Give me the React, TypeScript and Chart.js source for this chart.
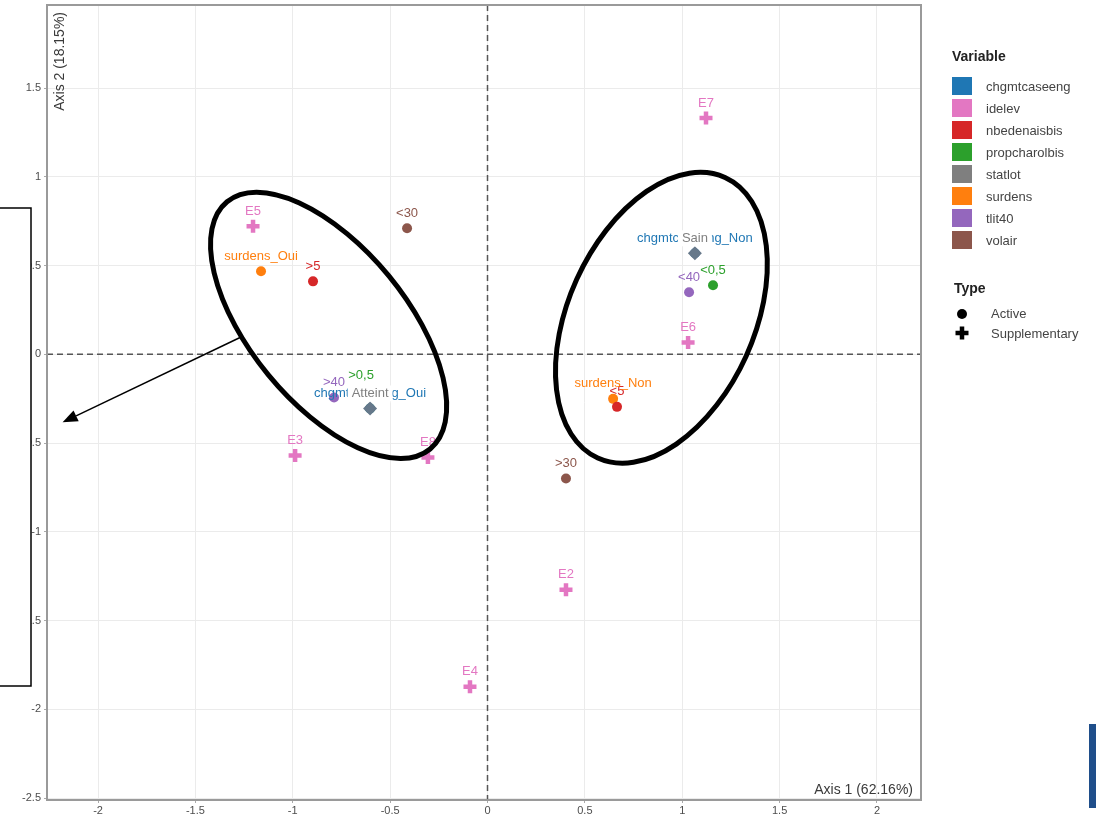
import React, { useEffect, useRef } from "react";
import { Chart, registerables } from "chart.js";

Chart.register(...registerables);

const FONT = '"Liberation Sans", Arial, sans-serif';

const variableNames = ["chgmtcaseeng", "idelev", "nbedenaisbis", "propcharolbis", "statlot", "surdens", "tlit40", "volair"];
const variableColors = ["#1f77b4", "#e377c2", "#d62728", "#2ca02c", "#7f7f7f", "#ff7f0e", "#9467bd", "#8c564b"];
const typeNames = ["Active", "Supplementary"];

const pointLabels = ["E7", "E5", "<30", "surdens_Oui", ">5", "chgmtcaseeng_Non", "Sain", "<0,5", "<40", "E6", "chgmtcaseeng_Oui", "Atteint", ">40", ">0,5", "surdens_Non", "<5", "E3", "E8", ">30", "E2", "E4"];
const pointX = [1.122, -1.204, -0.413, -1.163, -0.896, 1.065, 1.065, 1.158, 1.035, 1.03, -0.603, -0.603, -0.788, -0.603, 0.645, 0.665, -0.988, -0.306, 0.403, 0.403, -0.09];
const pointY = [1.331, 0.722, 0.71, 0.468, 0.411, 0.569, 0.569, 0.389, 0.35, 0.067, -0.305, -0.305, -0.243, -0.305, -0.251, -0.296, -0.57, -0.581, -0.7, -1.326, -1.873];
const pointVariable = ["idelev", "idelev", "volair", "surdens", "nbedenaisbis", "chgmtcaseeng", "statlot", "propcharolbis", "tlit40", "idelev", "chgmtcaseeng", "statlot", "tlit40", "propcharolbis", "surdens", "nbedenaisbis", "idelev", "idelev", "volair", "idelev", "idelev"];
const pointType = ["Supplementary", "Supplementary", "Active", "Active", "Active", "Active", "Active", "Active", "Active", "Supplementary", "Active", "Active", "Active", "Active", "Active", "Active", "Supplementary", "Supplementary", "Active", "Supplementary", "Supplementary"];

const xTicks = [-2, -1.5, -1, -0.5, 0, 0.5, 1, 1.5, 2];
const yTicks = [-2.5, -2, -1.5, -1, -0.5, 0, 0.5, 1, 1.5];
const xRange = [-2.262, 2.226];
const yRange = [-2.511, 1.968];
const xAxisTitle = "Axis 1 (62.16%)";
const yAxisTitle = "Axis 2 (18.15%)";

// annotation shapes (data-space centres)
const ellipseCX = [-0.816, 0.893];
const ellipseCY = [0.163, 0.206];
const arrowFrom = [-1.268, 0.096];
const arrowTo = [-2.182, -0.383];

const colorOf = (v: string) => variableColors[variableNames.indexOf(v)];

export default function App() {
  const ref = useRef<HTMLCanvasElement | null>(null);

  useEffect(() => {
    const canvas = ref.current;
    if (!canvas) return;

    const datasets: any[] = [];
    variableNames.forEach((v) => {
      typeNames.forEach((t) => {
        const idx = pointLabels.map((_, i) => i).filter((i) => pointVariable[i] === v && pointType[i] === t);
        if (!idx.length) return;
        const color = colorOf(v);
        const isStat = v === "statlot";
        datasets.push({
          label: v + " " + t,
          variable: v,
          data: idx.map((i) => ({ x: pointX[i], y: pointY[i], label: pointLabels[i] })),
          pointStyle: t === "Active" ? (isStat ? "rectRot" : "circle") : "cross",
          pointRadius: t === "Active" ? (isStat ? 7 : 5) : 6.5,
          pointHoverRadius: t === "Active" ? (isStat ? 7 : 5) : 6.5,
          backgroundColor: isStat ? "#66788a" : color,
          borderColor: isStat ? "#66788a" : color,
          borderWidth: t === "Active" ? 0 : 4.5,
          order: isStat ? 0 : 1,
          showLine: false,
        });
      });
    });

    const labelNudge: Record<string, [number, number]> = { ">0,5": [-9, -18] };

    const overlay = {
      id: "overlay",
      beforeDatasetsDraw(chart: any) {
        const { ctx, chartArea: a, scales } = chart;
        const x0 = scales.x.getPixelForValue(0);
        const y0 = scales.y.getPixelForValue(0);
        ctx.save();
        ctx.strokeStyle = "#555";
        ctx.lineWidth = 1.5;
        ctx.setLineDash([6, 4]);
        ctx.beginPath();
        ctx.moveTo(x0, a.top);
        ctx.lineTo(x0, a.bottom);
        ctx.moveTo(a.left, y0);
        ctx.lineTo(a.right, y0);
        ctx.stroke();
        ctx.setLineDash([]);
        // axis titles
        ctx.fillStyle = "#3a3a3a";
        ctx.font = `14px ${FONT}`;
        ctx.textBaseline = "middle";
        ctx.textAlign = "right";
        ctx.fillText(xAxisTitle, a.right - 8, a.bottom - 10);
        ctx.translate(a.left + 13, a.top + 7);
        ctx.rotate(-Math.PI / 2);
        ctx.textAlign = "right";
        ctx.fillText(yAxisTitle, 0, 0);
        ctx.restore();
      },
      afterDatasetsDraw(chart: any) {
        const { ctx, scales } = chart;
        ctx.save();
        ctx.font = `13px ${FONT}`;
        ctx.textAlign = "center";
        ctx.textBaseline = "middle";
        const passes = [false, true];
        passes.forEach((statPass) => {
          chart.data.datasets.forEach((ds: any, di: number) => {
            const isStat = ds.variable === "statlot";
            if (isStat !== statPass) return;
            const meta = chart.getDatasetMeta(di);
            meta.data.forEach((el: any, i: number) => {
              const lbl = ds.data[i].label;
              const n = labelNudge[lbl] || [0, 0];
              const lx = el.x + n[0];
              const ly = el.y - 15 + n[1];
              if (isStat) {
                const w = ctx.measureText(lbl).width;
                ctx.fillStyle = "#ffffff";
                ctx.fillRect(lx - w / 2 - 4, ly - 8, w + 8, 16);
                ctx.fillStyle = "#808080";
              } else {
                ctx.fillStyle = colorOf(ds.variable);
              }
              ctx.fillText(lbl, lx, ly);
            });
          });
        });

        // ellipses
        const radii = [
          [160, 78, 50.6],
          [154, 93, -65.6],
        ];
        ctx.strokeStyle = "#000";
        ctx.lineWidth = 5;
        ellipseCX.forEach((cx, k) => {
          const px = scales.x.getPixelForValue(cx);
          const py = scales.y.getPixelForValue(ellipseCY[k]);
          ctx.beginPath();
          ctx.ellipse(px, py, radii[k][0], radii[k][1], (radii[k][2] * Math.PI) / 180, 0, Math.PI * 2);
          ctx.stroke();
        });

        // arrow
        const ax0 = scales.x.getPixelForValue(arrowFrom[0]);
        const ay0 = scales.y.getPixelForValue(arrowFrom[1]);
        const ax1 = scales.x.getPixelForValue(arrowTo[0]);
        const ay1 = scales.y.getPixelForValue(arrowTo[1]);
        const ang = Math.atan2(ay1 - ay0, ax1 - ax0);
        const hl = 15;
        const hw = 6;
        const bx = ax1 - hl * Math.cos(ang);
        const by = ay1 - hl * Math.sin(ang);
        ctx.lineWidth = 1.5;
        ctx.beginPath();
        ctx.moveTo(ax0, ay0);
        ctx.lineTo(bx, by);
        ctx.stroke();
        ctx.fillStyle = "#000";
        ctx.beginPath();
        ctx.moveTo(ax1, ay1);
        ctx.lineTo(bx + hw * Math.sin(ang), by - hw * Math.cos(ang));
        ctx.lineTo(bx - hw * Math.sin(ang), by + hw * Math.cos(ang));
        ctx.closePath();
        ctx.fill();
        ctx.restore();
      },
      afterDraw(chart: any) {
        const { ctx, chartArea: a } = chart;
        ctx.save();
        // panel border
        ctx.strokeStyle = "#9a9a9a";
        ctx.lineWidth = 2;
        ctx.strokeRect(a.left, a.top, a.right - a.left, a.bottom - a.top);

        // legend
        const lx = 952;
        ctx.textBaseline = "middle";
        ctx.textAlign = "left";
        ctx.fillStyle = "#222";
        ctx.font = `bold 14px ${FONT}`;
        ctx.fillText("Variable", lx, 57);
        variableNames.forEach((v, i) => {
          const cy = 86 + i * 22;
          ctx.fillStyle = variableColors[i];
          ctx.fillRect(lx, cy - 9, 20, 18);
          ctx.fillStyle = "#444";
          ctx.font = `13px ${FONT}`;
          ctx.fillText(v, 986, cy + 1);
        });
        ctx.fillStyle = "#222";
        ctx.font = `bold 14px ${FONT}`;
        ctx.fillText("Type", 954, 289);
        ctx.fillStyle = "#000";
        ctx.beginPath();
        ctx.arc(962, 314, 5, 0, Math.PI * 2);
        ctx.fill();
        ctx.strokeStyle = "#000";
        ctx.lineWidth = 4.5;
        ctx.beginPath();
        ctx.moveTo(955.5, 333);
        ctx.lineTo(968.5, 333);
        ctx.moveTo(962, 326.5);
        ctx.lineTo(962, 339.5);
        ctx.stroke();
        ctx.fillStyle = "#444";
        ctx.font = `13px ${FONT}`;
        typeNames.forEach((t, i) => ctx.fillText(t, 991, 314 + i * 20));

        // overlaid box on the left
        ctx.fillStyle = "#fff";
        ctx.fillRect(-4, 208, 35, 478);
        ctx.strokeStyle = "#000";
        ctx.lineWidth = 1.5;
        ctx.strokeRect(-4, 208, 35, 478);

        // blue bar bottom-right
        ctx.fillStyle = "#1f4e8a";
        ctx.fillRect(1089, 724, 7, 84);
        ctx.restore();
      },
    };

    const fmt = (v: any) => String(Number(v));

    const chart = new Chart(canvas, {
      type: "scatter",
      data: { datasets },
      options: {
        animation: false,
        responsive: false,
        maintainAspectRatio: false,
        layout: { autoPadding: false, padding: { top: 0, right: 175, left: 0, bottom: 0 } },
        plugins: { legend: { display: false }, tooltip: { enabled: false } },
        scales: {
          x: {
            type: "linear",
            min: xRange[0],
            max: xRange[1],
            afterBuildTicks: (s: any) => {
              s.ticks = xTicks.map((v) => ({ value: v }));
            },
            afterFit: (s: any) => {
              s.height = 17;
            },
            grid: { color: "#ebebeb", lineWidth: 1, tickLength: 3, tickColor: "#aaa" },
            border: { display: false },
            ticks: {
              autoSkip: false,
              maxRotation: 0,
              padding: 1,
              color: "#4d4d4d",
              font: { family: FONT, size: 11 },
              callback: fmt,
            },
          },
          y: {
            type: "linear",
            min: yRange[0],
            max: yRange[1],
            afterBuildTicks: (s: any) => {
              s.ticks = yTicks.map((v) => ({ value: v }));
            },
            afterFit: (s: any) => {
              s.width = 47;
              s.paddingTop = 5;
              s.paddingBottom = 0;
            },
            grid: { color: "#ebebeb", lineWidth: 1, tickLength: 3, tickColor: "#aaa" },
            border: { display: false },
            ticks: {
              autoSkip: false,
              padding: 3,
              color: "#4d4d4d",
              font: { family: FONT, size: 11 },
              callback: fmt,
            },
          },
        },
      } as any,
      plugins: [overlay],
    });

    return () => chart.destroy();
  }, []);

  return (
    <div style={{ position: "absolute", left: 0, top: 0, width: 1096, height: 817, background: "#fff" }}>
      <canvas ref={ref} width={1096} height={817} style={{ display: "block", width: 1096, height: 817 }} />
    </div>
  );
}
